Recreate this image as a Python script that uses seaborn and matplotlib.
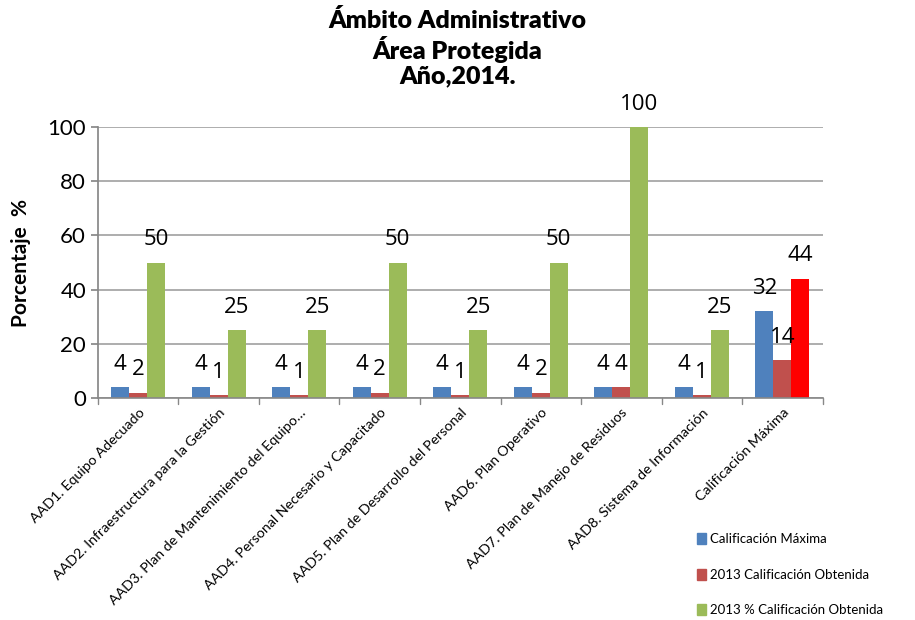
import matplotlib
matplotlib.use("Agg")
import matplotlib.pyplot as plt
import matplotlib.patches as mpatches
import seaborn as sns
import pandas as pd

sns.set_theme(style="white")
plt.rcParams["font.family"] = ["Lato", "DejaVu Sans"]
plt.rcParams["text.color"] = "black"
plt.rcParams["axes.labelcolor"] = "black"
plt.rcParams["xtick.color"] = "black"
plt.rcParams["ytick.color"] = "black"

categories = [
    "AAD1. Equipo Adecuado",
    "AAD2. Infraestructura para la Gestión",
    "AAD3. Plan de Mantenimiento del Equipo…",
    "AAD4. Personal Necesario y Capacitado",
    "AAD5. Plan de Desarrollo del Personal",
    "AAD6. Plan Operativo",
    "AAD7. Plan de Manejo de Residuos",
    "AAD8. Sistema de Información",
    "Calificación Máxima",
]
series = ["Calificación Máxima", "2013 Calificación Obtenida", "2013 % Calificación Obtenida"]
cal_maxima = [4, 4, 4, 4, 4, 4, 4, 4, 32]
cal_obtenida = [2, 1, 1, 2, 1, 2, 4, 1, 14]
pct_obtenida = [50, 25, 25, 50, 25, 50, 100, 25, 44]
colors = ["#4F81BD", "#C0504D", "#9BBB59"]
highlight = "#FF0000"

df = pd.DataFrame({
    "categoria": categories * 3,
    "serie": [series[0]] * 9 + [series[1]] * 9 + [series[2]] * 9,
    "valor": cal_maxima + cal_obtenida + pct_obtenida,
})

fig = plt.figure(figsize=(9.15, 6.2), dpi=100)
ax = fig.add_axes([0.107, 0.358, 0.792, 0.437])

sns.barplot(data=df, x="categoria", y="valor", hue="serie", order=categories,
            hue_order=series, palette=colors, width=0.67, saturation=1,
            legend=False, ax=ax)

# last bar of the percentage series is drawn red
ax.containers[2].patches[-1].set_facecolor(highlight)

for cont in ax.containers:
    for p in cont.patches:
        p.set_edgecolor("none")
    ax.bar_label(cont, fmt="%d", fontsize=16, padding=9, family=["Open Sans", "DejaVu Sans"])

ax.set_ylim(0, 100)
ax.set_xlim(-0.5, len(categories) - 0.5)
ax.set_yticks(range(0, 101, 20))
ax.tick_params(axis="y", labelsize=16, length=5, color="#888888", direction="out", left=True)
ax.yaxis.grid(True, color="#A0A0A0", linewidth=1.2)
ax.set_axisbelow(True)

ax.set_xticks(range(len(categories)))
ax.set_xticklabels(categories, rotation=45, ha="right", rotation_mode="anchor", fontsize=10.3)
ax.tick_params(axis="x", length=0, pad=6)
for x in [i + 0.5 for i in range(-1, len(categories))]:
    ax.plot([x, x], [0, -2.2], color="#888888", lw=1, clip_on=False)

ax.set_xlabel("")
ax.set_ylabel("Porcentaje  %", fontsize=15, fontweight="bold", labelpad=12)
for side in ["top", "right"]:
    ax.spines[side].set_visible(False)
ax.spines["left"].set_color("#888888")
ax.spines["bottom"].set_color("#888888")
ax.spines["bottom"].set_linewidth(1.2)

fig.text(0.5, 0.985, "Ámbito Administrativo\nÁrea Protegida\nAño,2014.", ha="center", va="top",
         fontsize=18, fontweight="heavy", linespacing=1.15)

handles = [mpatches.Patch(color=c, label=s) for c, s in zip(colors, series)]
fig.legend(handles=handles, loc="upper left", bbox_to_anchor=(0.756, 0.149), frameon=False,
           fontsize=9.5, labelspacing=1.8, handlelength=0.7, handleheight=0.9, handletextpad=0.3,
           borderaxespad=0)

fig.savefig("out.png", dpi=100)
